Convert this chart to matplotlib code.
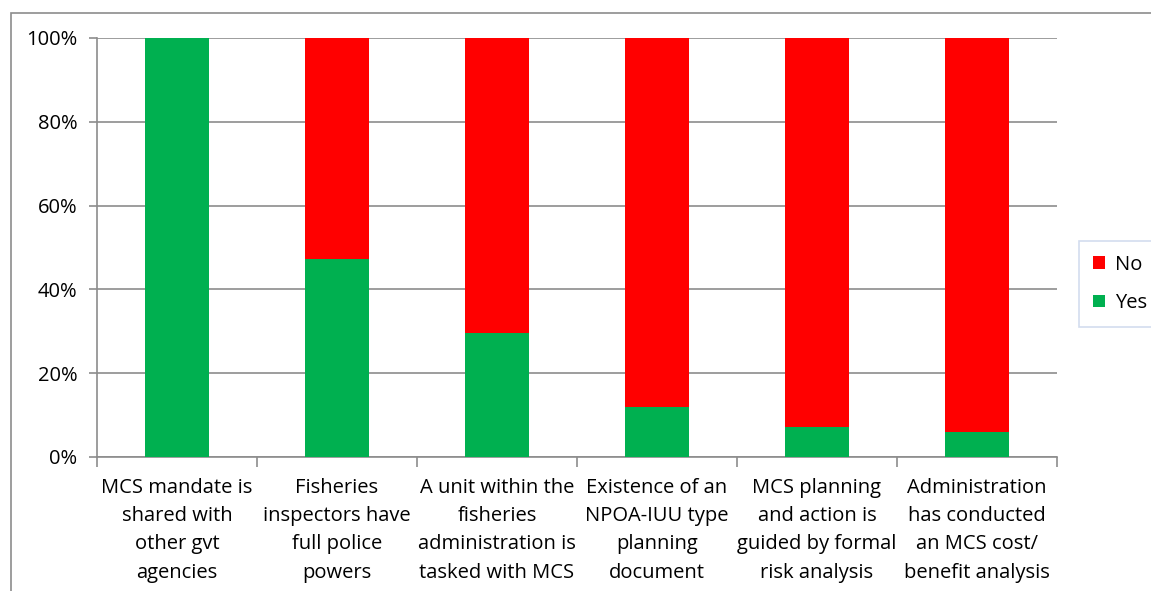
import numpy as np
import matplotlib.pyplot as plt
from matplotlib.patches import Rectangle
from matplotlib.ticker import PercentFormatter

categories = ['MCS mandate is\nshared with\nother gvt\nagencies',
              'Fisheries\ninspectors have\nfull police\npowers',
              'A unit within the\nfisheries\nadministration is\ntasked with MCS',
              'Existence of an\nNPOA-IUU type\nplanning\ndocument',
              'MCS planning\nand action is\nguided by formal\nrisk analysis',
              'Administration\nhas conducted\nan MCS cost/\nbenefit analysis']
yes = [100, 47.3, 29.6, 11.9, 7.2, 6.0]
no = [100 - v for v in yes]

plt.rcParams['font.family'] = ['Open Sans', 'DejaVu Sans']
fig = plt.figure(figsize=(11.51, 5.91), dpi=100)
ax = fig.add_axes([97/1151, 1 - 457/591, 960/1151, 419/591])

x = np.arange(len(categories))
ax.bar(x, yes, width=0.4, color='#00B050', label='Yes', zorder=3)
ax.bar(x, no, width=0.4, bottom=yes, color='#FF0000', label='No', zorder=3)

ax.set_xlim(-0.5, len(categories) - 0.5)
ax.set_ylim(0, 100)
ax.set_yticks(np.arange(0, 101, 20))
ax.yaxis.set_major_formatter(PercentFormatter(decimals=0))
ax.grid(axis='y', color='#8c8c8c', linewidth=1.2, zorder=0)
for s in ['top', 'right']:
    ax.spines[s].set_visible(False)
for s in ['left', 'bottom']:
    ax.spines[s].set_color('#8c8c8c')
    ax.spines[s].set_linewidth(1.2)

ax.set_xticks(x)
ax.set_xticklabels(categories, fontsize=14.5, linespacing=1.55)
ax.tick_params(axis='x', length=0, pad=15)
ax.set_xticks(np.arange(-0.5, len(categories), 1), minor=True)
ax.tick_params(axis='x', which='minor', length=7, color='#8c8c8c', width=1.2)
ax.tick_params(axis='y', length=6, color='#8c8c8c', width=1.2, labelsize=14.5, pad=8)

h, l = ax.get_legend_handles_labels()
leg = fig.legend(h[::-1], l[::-1], loc='center left', bbox_to_anchor=(1069/1151, 1 - 284/591),
                 fontsize=14.5, frameon=True, fancybox=False, handlelength=0.6, handleheight=0.6,
                 handletextpad=0.5, labelspacing=0.9, borderpad=0.7)
leg.get_frame().set_edgecolor('#c8d4ea')
leg.get_frame().set_linewidth(1.2)

fig.patches.append(Rectangle((11/1151, -0.1), 2, 1.1 - 13/591, transform=fig.transFigure,
                             fill=False, edgecolor='#8c8c8c', linewidth=1.2))

fig.savefig('out.png', dpi=100)
